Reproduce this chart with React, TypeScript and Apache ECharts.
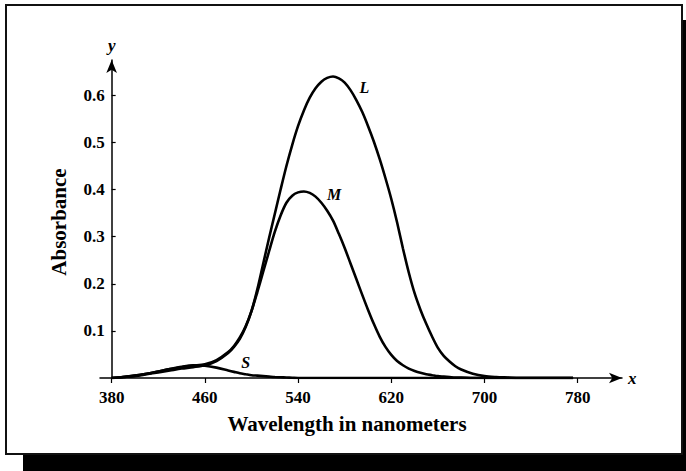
import React, { useEffect, useRef } from "react";
import * as echarts from "echarts";

const wavelengths = [
  380, 390, 400, 410, 420, 430, 440, 450, 460, 470,
  480, 485, 490, 495, 500, 505, 510, 515, 520, 525,
  530, 535, 540, 545, 550, 555, 560, 565, 570, 575,
  580, 585, 590, 595, 600, 605, 610, 615, 620, 625,
  630, 635, 640, 645, 650, 655, 660, 665, 670, 675,
  680, 690, 700, 710, 720, 730, 740, 750, 760, 770, 776,
];

const lValues = [
  0.000, 0.002, 0.004, 0.008, 0.012, 0.016, 0.020, 0.023, 0.027, 0.036,
  0.053, 0.066, 0.083, 0.108, 0.142, 0.188, 0.242, 0.296, 0.348, 0.400,
  0.450, 0.495, 0.535, 0.568, 0.595, 0.615, 0.629, 0.637, 0.640, 0.636,
  0.627, 0.611, 0.590, 0.565, 0.535, 0.502, 0.465, 0.424, 0.380, 0.330,
  0.275, 0.224, 0.180, 0.145, 0.115, 0.088, 0.064, 0.047, 0.035, 0.025,
  0.018, 0.009, 0.004, 0.002, 0.001, 0.000, 0.000, 0.000, 0.000, 0.000, 0.000,
];

const mValues = [
  0.000, 0.002, 0.005, 0.009, 0.014, 0.019, 0.023, 0.026, 0.029, 0.038,
  0.055, 0.068, 0.086, 0.110, 0.142, 0.182, 0.225, 0.268, 0.310, 0.345,
  0.372, 0.387, 0.394, 0.396, 0.393, 0.385, 0.372, 0.355, 0.334, 0.306,
  0.276, 0.243, 0.210, 0.177, 0.145, 0.115, 0.088, 0.066, 0.049, 0.036,
  0.027, 0.020, 0.015, 0.011, 0.008, 0.006, 0.004, 0.003, 0.002, 0.001,
  0.001, 0.000, 0.000, 0.000, 0.000, 0.000, 0.000, 0.000, 0.000, 0.000, 0.000,
];

const sValues = [
  0.000, 0.002, 0.005, 0.009, 0.014, 0.019, 0.024, 0.027, 0.026, 0.022,
  0.016, 0.013, 0.010, 0.008, 0.006, 0.005, 0.004, 0.003, 0.002, 0.0015,
  0.001, 0.0005, 0.000, 0.000, 0.000, 0.000, 0.000, 0.000, 0.000, 0.000,
  0.000, 0.000, 0.000, 0.000, 0.000, 0.000, 0.000, 0.000, 0.000, 0.000,
  0.000, 0.000, 0.000, 0.000, 0.000, 0.000, 0.000, 0.000, 0.000, 0.000,
  0.000, 0.000, 0.000, 0.000, 0.000, 0.000, 0.000, 0.000, 0.000, 0.000, 0.000,
];

const xTicks = [380, 460, 540, 620, 700, 780];
const yTicks = [0.1, 0.2, 0.3, 0.4, 0.5, 0.6];

const curveNames = ["L", "M", "S"];
const curveLabelCoords: [number, number][] = [[597, 0.616], [571, 0.389], [495, 0.032]];

const xTitle = "Wavelength in nanometers";
const yTitle = "Absorbance";

const FONT = "Liberation Serif";

export default function App() {
  const ref = useRef<HTMLDivElement>(null);
  useEffect(() => {
    if (!ref.current) return;
    const chart = echarts.init(ref.current, undefined, { renderer: "svg" });
    const series = [lValues, mValues, sValues].map((vals, i) => ({
      type: "line",
      name: curveNames[i],
      data: wavelengths.map((w, j) => [w, vals[j]]),
      smooth: 0.3,
      showSymbol: false,
      lineStyle: { color: "#000", width: 2.6 },
      z: 3,
      markPoint: {
        symbol: "circle",
        symbolSize: 0,
        data: [{ coord: curveLabelCoords[i] }],
        label: {
          show: true,
          position: "inside",
          formatter: curveNames[i],
          fontFamily: FONT,
          fontStyle: "italic",
          fontWeight: "bold",
          fontSize: 16,
          color: "#000",
        },
      },
    }));
    chart.setOption({
      animation: false,
      backgroundColor: "#fff",
      grid: { left: 100, right: 64, top: 60, bottom: 93 },
      xAxis: {
        type: "value",
        min: 370,
        max: 818,
        name: "x",
        nameLocation: "end",
        nameGap: 6,
        nameTextStyle: { fontFamily: FONT, fontStyle: "italic", fontWeight: "bold", fontSize: 17, color: "#000" },
        axisLine: { show: true, lineStyle: { color: "#000", width: 1.5 }, symbol: ["none", "arrow"], symbolSize: [8, 13] },
        axisTick: { show: true, length: 5, lineStyle: { color: "#000", width: 1.2 }, customValues: xTicks },
        axisLabel: { show: true, margin: 11, fontFamily: FONT, fontWeight: "bold", fontSize: 17, color: "#000", customValues: xTicks },
        splitLine: { show: false },
      },
      yAxis: {
        type: "value",
        min: 0,
        max: 0.675,
        offset: -11.65,
        name: "y",
        nameLocation: "end",
        nameGap: 6,
        nameTextStyle: { fontFamily: FONT, fontStyle: "italic", fontWeight: "bold", fontSize: 17, color: "#000" },
        axisLine: { show: true, lineStyle: { color: "#000", width: 1.5 }, symbol: ["none", "arrow"], symbolSize: [8, 13] },
        axisTick: { show: true, inside: true, length: 4, lineStyle: { color: "#000", width: 1.2 }, customValues: yTicks },
        axisLabel: { show: true, margin: 7, fontFamily: FONT, fontWeight: "bold", fontSize: 17, color: "#000", customValues: yTicks, formatter: (v: number) => v.toFixed(1) },
        splitLine: { show: false },
      },
      graphic: [
        { type: "rect", z: -10, shape: { x: 23, y: 454, width: 663, height: 17 }, style: { fill: "#000" } },
        { type: "rect", z: -10, shape: { x: 681, y: 20, width: 5, height: 451 }, style: { fill: "#000" } },
        { type: "rect", z: -9, shape: { x: 6, y: 5, width: 676, height: 449 }, style: { fill: "#fff", stroke: "#111", lineWidth: 2 } },
        { type: "text", z: 10, x: 347, y: 424, style: { text: xTitle, fontFamily: FONT, fontSize: 21, fontWeight: "bold", fill: "#000", textAlign: "center", textVerticalAlign: "middle" } },
        { type: "text", z: 10, x: 59, y: 222, rotation: Math.PI / 2, style: { text: yTitle, fontFamily: FONT, fontSize: 21, fontWeight: "bold", fill: "#000", textAlign: "center", textVerticalAlign: "middle" } },
      ],
      series,
    });
    return () => chart.dispose();
  }, []);
  return <div ref={ref} style={{ position: "fixed", left: 0, top: 0, width: 686, height: 471 }} />;
}
